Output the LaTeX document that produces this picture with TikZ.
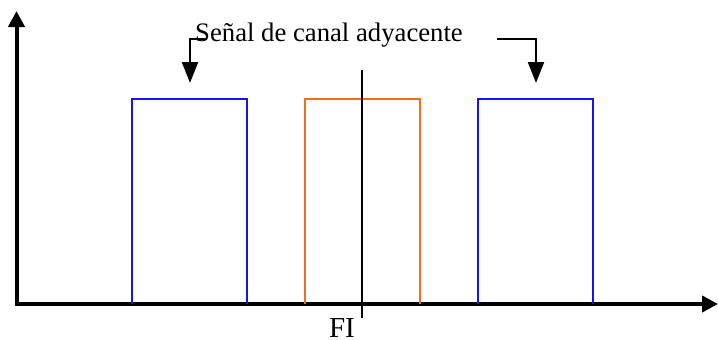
\documentclass[tikz,border=0pt]{standalone}
\usepackage{fontspec}
\setmainfont{Liberation Serif}
\usetikzlibrary{arrows.meta}
\definecolor{bandblue}{RGB}{20,20,240}
\definecolor{bandorange}{RGB}{240,110,30}
\begin{document}
\begin{tikzpicture}[x=1pt,y=-1pt,
  axis/.style={line width=4pt,-{Triangle[length=16pt,width=16pt]}},
  pointer/.style={line width=2.4pt,-{Triangle[length=21pt,width=16pt]}},
  band/.style={line width=2pt}]
\useasboundingbox (0,0) rectangle (718,340);
\coordinate (o) at (16.5,304);
\coordinate (ytip) at (16.5,11);
\coordinate (xtip) at (718,304);
\draw[axis] (o) -- (ytip);
\draw[axis] ([xshift=-2pt]o) -- (xtip);
\draw[band,bandblue] (132,304) -- (132,99) -- (247,99) -- (247,304);
\draw[band,bandorange] (305,304) -- (305,99) -- (420,99) -- (420,304);
\draw[band,bandblue] (478,304) -- (478,99) -- (593,99) -- (593,304);
\coordinate (fitop) at (362,70);
\coordinate (fibot) at (362,318);
\draw[line width=1.3pt] (fitop) -- (fibot);
\node[font=\fontsize{29}{29}\selectfont, anchor=base, inner sep=0pt] (fi) at (342,337.5) {FI};
\node[font=\fontsize{26.7}{27}\selectfont, anchor=base west, inner sep=0pt] (lbl) at (195,41) {Señal de canal adyacente};
\coordinate (l1) at (207,39);
\coordinate (l2) at (190,39);
\coordinate (l3) at (190,83);
\draw[pointer] (l1) -- (l2) -- (l3);
\coordinate (r1) at (497,39);
\coordinate (r2) at (536,39);
\coordinate (r3) at (536,83);
\draw[pointer] (r1) -- (r2) -- (r3);
\end{tikzpicture}
\end{document}
